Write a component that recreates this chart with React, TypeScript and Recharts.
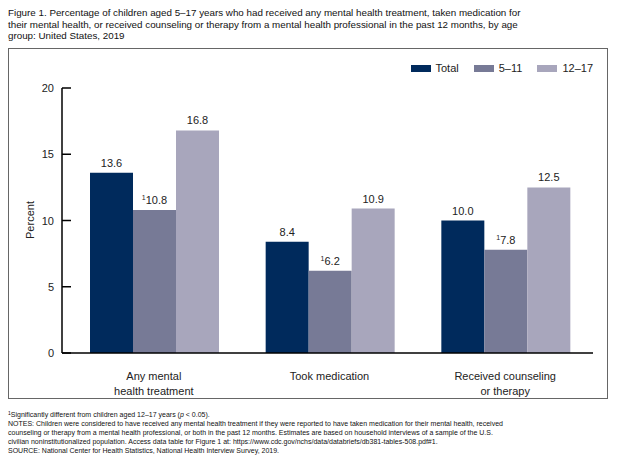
import { BarChart, Bar, XAxis, YAxis, LabelList, Label } from 'recharts';

const categories = ['Any mental\nhealth treatment', 'Took medication', 'Received counseling\nor therapy'];
const total = [13.6, 8.4, 10.0];
const age5to11 = [10.8, 6.2, 7.8];
const age12to17 = [16.8, 10.9, 12.5];
// superscript 1 = significantly different from 12–17
const flagged5to11 = [true, true, true];
const yTicks = [0, 5, 10, 15, 20];

const SERIES = [
  { key: 'total', name: 'Total', color: '#002a5c' },
  { key: 'young', name: '5–11', color: '#777a96' },
  { key: 'teen', name: '12–17', color: '#a8a6bc' },
];

const FONT = '"Liberation Sans", Arial, Helvetica, sans-serif';

const data = categories.map((name, i) => ({
  name,
  total: total[i],
  young: age5to11[i],
  teen: age12to17[i],
}));

function YTick({ x, y, payload }: any) {
  return (
    <g>
      <line x1={x} x2={x + 9} y1={y} y2={y} stroke="#000" strokeWidth={1.5} />
      <text x={x - 8} y={y + 4} textAnchor="end" fontSize={11} fill="#222" fontFamily={FONT}>
        {payload.value}
      </text>
    </g>
  );
}

function XTick({ x, y, payload }: any) {
  const lines = String(payload.value).split('\n');
  return (
    <text x={x} y={y + 19} textAnchor="middle" fontSize={11} fill="#222" fontFamily={FONT}>
      {lines.map((l, i) => (
        <tspan key={i} x={x} dy={i === 0 ? 0 : 15}>
          {l}
        </tspan>
      ))}
    </text>
  );
}

const valueLabel = (flags?: boolean[]) => (props: any) => {
  const { x, y, width, value, index } = props;
  const flag = flags ? flags[index] : false;
  const cx = x + width / 2;
  return (
    <text x={cx} y={y - 6} textAnchor="middle" fontSize={11} fill="#222" fontFamily={FONT}>
      {flag && (
        <tspan fontSize={7} dy={-4}>
          1
        </tspan>
      )}
      <tspan dy={flag ? 4 : 0}>{Number(value).toFixed(1)}</tspan>
    </text>
  );
};

export default function App() {
  return (
    <div
      style={{
        position: 'absolute',
        left: 0,
        top: 0,
        width: 618,
        height: 464,
        background: '#fff',
        fontFamily: FONT,
        color: '#111',
      }}
    >
      <div style={{ position: 'absolute', left: 8, top: 7, fontSize: 9.8, lineHeight: '11.5px', width: 605 }}>
        Figure 1. Percentage of children aged 5–17 years who had received any mental health treatment, taken medication for
        <br />
        their mental health, or received counseling or therapy from a mental health professional in the past 12 months, by age
        <br />
        group: United States, 2019
      </div>

      <div
        style={{
          position: 'absolute',
          left: 8,
          top: 48,
          width: 600,
          height: 351,
          border: '1px solid #666',
          boxSizing: 'border-box',
        }}
      />

      <div style={{ position: 'absolute', left: 0, top: 0 }}>
        <BarChart
          width={618}
          height={400}
          data={data}
          margin={{ top: 88, right: 25, bottom: 0, left: 0 }}
          barCategoryGap={24}
          barGap={0}
        >
          <XAxis
            dataKey="name"
            height={47}
            interval={0}
            padding={{ left: 4, right: 0 }}
            axisLine={{ stroke: '#000', strokeWidth: 1.5 }}
            tickLine={false}
            tick={<XTick />}
          />
          <YAxis
            width={62}
            domain={[0, 20]}
            ticks={yTicks}
            interval={0}
            tickSize={0}
            tickMargin={0}
            axisLine={{ stroke: '#000', strokeWidth: 1.5 }}
            tickLine={false}
            tick={<YTick />}
          >
            <Label
              content={() => (
                <text
                  x={34}
                  y={220}
                  transform="rotate(-90 34 220)"
                  textAnchor="middle"
                  fontSize={11}
                  fill="#222"
                  fontFamily={FONT}
                >
                  Percent
                </text>
              )}
            />
          </YAxis>
          {SERIES.map((s) => (
            <Bar key={s.key} dataKey={s.key} name={s.name} fill={s.color} isAnimationActive={false}>
              <LabelList dataKey={s.key} content={valueLabel(s.key === 'young' ? flagged5to11 : undefined)} />
            </Bar>
          ))}
        </BarChart>
      </div>

      <div
        style={{
          position: 'absolute',
          top: 62,
          right: 25,
          display: 'flex',
          alignItems: 'center',
          fontSize: 11,
          color: '#222',
        }}
      >
        {SERIES.map((s) => (
          <div key={s.key} style={{ display: 'flex', alignItems: 'center', marginLeft: 15 }}>
            <span style={{ display: 'inline-block', width: 20, height: 7, background: s.color, marginRight: 5 }} />
            <span>{s.name}</span>
          </div>
        ))}
      </div>

      <div style={{ position: 'absolute', left: 8, top: 410, fontSize: 7, lineHeight: '9px', color: '#111', width: 605 }}>
        <div>
          <sup style={{ fontSize: 5, verticalAlign: 'top', lineHeight: '6px' }}>1</sup>Significantly different from children aged 12–17 years (<i>p</i> &lt; 0.05).
        </div>
        <div>
          NOTES: Children were considered to have received any mental health treatment if they were reported to have taken medication for their mental health, received
          <br />
          counseling or therapy from a mental health professional, or both in the past 12 months. Estimates are based on household interviews of a sample of the U.S.
          <br />
          civilian noninstitutionalized population. Access data table for Figure 1 at: https://www.cdc.gov/nchs/data/databriefs/db381-tables-508.pdf#1.
        </div>
        <div>SOURCE: National Center for Health Statistics, National Health Interview Survey, 2019.</div>
      </div>
    </div>
  );
}
